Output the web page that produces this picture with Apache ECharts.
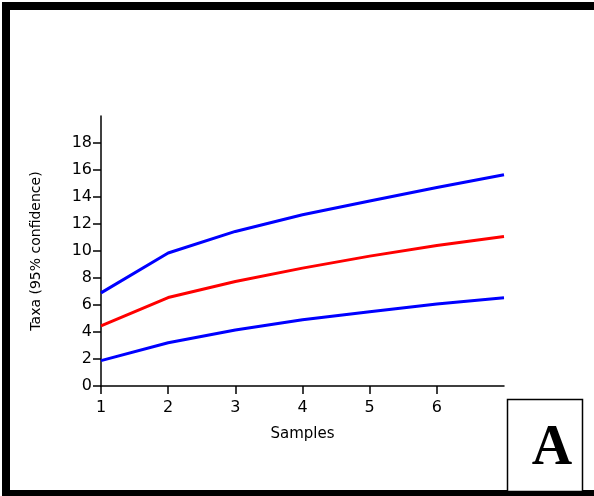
<!DOCTYPE html>
<html>
<head>
<meta charset="utf-8">
<script src="https://cdn.jsdelivr.net/npm/echarts@6/dist/echarts.min.js"></script>
<style>
  html, body { margin: 0; padding: 0; background: #fff; }
  #chart { width: 594px; height: 496px; }
</style>
</head>
<body>
<div id="chart"></div>
<script>
// Rarefaction curve: expected taxa with 95% confidence bounds
const samples = [1, 2, 3, 4, 5, 6, 7];
const upperBound = [6.9, 9.85, 11.45, 12.68, 13.7, 14.7, 15.65];
const expectedTaxa = [4.45, 6.55, 7.74, 8.73, 9.62, 10.41, 11.07];
const lowerBound = [1.88, 3.2, 4.15, 4.9, 5.5, 6.07, 6.53];
const xTickValues = [1, 2, 3, 4, 5, 6];
const yTickValues = [0, 2, 4, 6, 8, 10, 12, 14, 16, 18];

const pairs = (ys) => samples.map((x, i) => [x, ys[i]]);
const font = '"DejaVu Sans", Verdana, sans-serif';

const chart = echarts.init(document.getElementById('chart'), null, { renderer: 'canvas' });
chart.setOption({
  animation: false,
  backgroundColor: '#ffffff',
  grid: { left: 101, right: 90, top: 116, bottom: 110, containLabel: false },
  xAxis: {
    type: 'value', min: 1, max: 7, interval: 1,
    name: 'Samples', nameLocation: 'middle', nameGap: 41,
    nameTextStyle: { fontFamily: font, fontSize: 15, color: '#000' },
    splitLine: { show: false },
    axisLine: { show: true, onZero: false, lineStyle: { color: '#000', width: 1.5 } },
    axisTick: { show: true, length: 8, customValues: xTickValues, lineStyle: { color: '#000', width: 1.5 } },
    axisLabel: { customValues: xTickValues, margin: 14, fontFamily: font, fontSize: 16, color: '#000' }
  },
  yAxis: {
    type: 'value', min: 0, max: 20, interval: 2,
    name: 'Taxa (95% confidence)', nameLocation: 'middle', nameGap: 58,
    nameTextStyle: { fontFamily: font, fontSize: 14, color: '#000' },
    splitLine: { show: false },
    axisLine: { show: true, lineStyle: { color: '#000', width: 1.5 } },
    axisTick: { show: true, length: 8, customValues: yTickValues, lineStyle: { color: '#000', width: 1.5 } },
    axisLabel: { customValues: yTickValues, margin: 9, fontFamily: font, fontSize: 16, color: '#000' }
  },
  series: [
    { name: 'Upper 95%', type: 'line', data: pairs(upperBound), showSymbol: false,
      lineStyle: { color: '#0000ff', width: 3 }, itemStyle: { color: '#0000ff' } },
    { name: 'Expected', type: 'line', data: pairs(expectedTaxa), showSymbol: false,
      lineStyle: { color: '#ff0000', width: 3 }, itemStyle: { color: '#ff0000' } },
    { name: 'Lower 95%', type: 'line', data: pairs(lowerBound), showSymbol: false,
      lineStyle: { color: '#0000ff', width: 3 }, itemStyle: { color: '#0000ff' } }
  ],
  graphic: [
    // panel frame: top, left and bottom edges
    { type: 'rect', shape: { x: 2, y: 2, width: 600, height: 8 }, style: { fill: '#000' } },
    { type: 'rect', shape: { x: 2, y: 2, width: 8, height: 500 }, style: { fill: '#000' } },
    { type: 'rect', shape: { x: 2, y: 490, width: 600, height: 10 }, style: { fill: '#000' } },
    // panel letter box
    { type: 'rect', shape: { x: 507.5, y: 399.5, width: 75, height: 92 },
      style: { fill: '#fff', stroke: '#000', lineWidth: 1.5 } },
    { type: 'text', x: 552, y: 450,
      style: { text: 'A', font: 'bold 56px "Liberation Serif", "Times New Roman", serif',
        fill: '#000', align: 'center', verticalAlign: 'middle' } }
  ]
});
</script>
</body>
</html>
